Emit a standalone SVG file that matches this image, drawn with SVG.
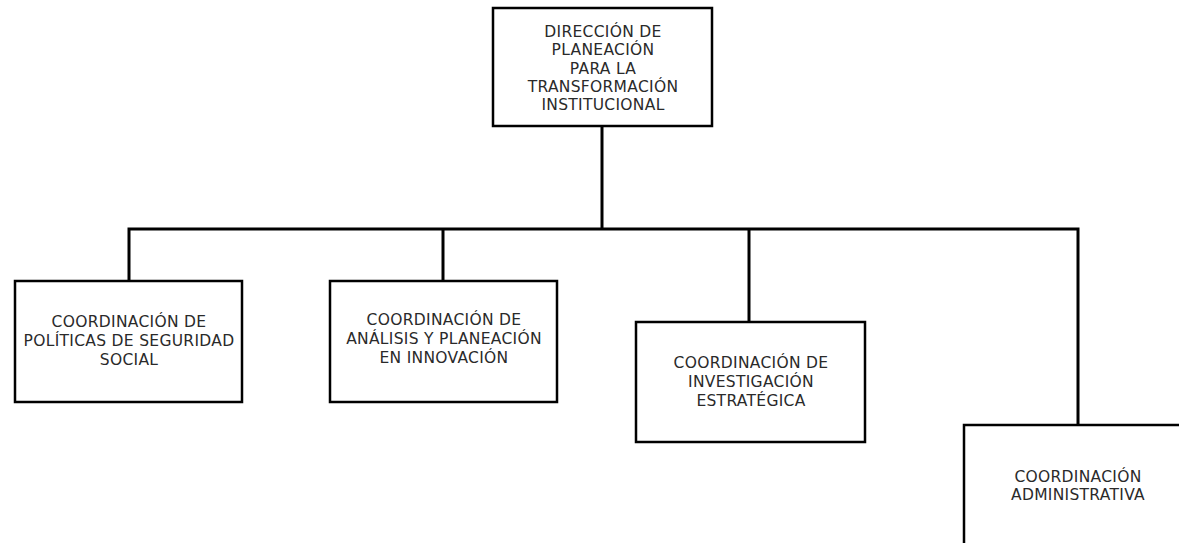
<svg xmlns="http://www.w3.org/2000/svg" width="1179" height="543" viewBox="0 0 1179 543">
<style>
.box{fill:#fff;stroke:#000;stroke-width:2.5}
.ln{fill:none;stroke:#000;stroke-width:3}
text{font-family:"DejaVu Sans","Liberation Sans",sans-serif;font-size:15.5px;letter-spacing:0.3px;fill:#2a2a2a;text-anchor:middle}
</style>
<rect width="1179" height="543" fill="#fff"/>
<g id="connectors">
<line class="ln" x1="602" y1="126" x2="602" y2="229"/>
<polyline class="ln" points="129,281 129,229 1078,229 1078,425"/>
<line class="ln" x1="443" y1="229" x2="443" y2="281"/>
<line class="ln" x1="749" y1="229" x2="749" y2="322"/>
</g>
<g id="n0">
<rect class="box" x="493" y="8" width="219" height="118"/>
<text x="603" y="37">DIRECCIÓN DE</text>
<text x="603" y="55">PLANEACIÓN</text>
<text x="603" y="74">PARA LA</text>
<text x="603" y="92">TRANSFORMACIÓN</text>
<text x="603" y="110">INSTITUCIONAL</text>
</g>
<g id="n1">
<rect class="box" x="15" y="281" width="227" height="121"/>
<text x="129" y="327">COORDINACIÓN DE</text>
<text x="129" y="346">POLÍTICAS DE SEGURIDAD</text>
<text x="129" y="365">SOCIAL</text>
</g>
<g id="n2">
<rect class="box" x="330" y="281" width="227" height="121"/>
<text x="444" y="325">COORDINACIÓN DE</text>
<text x="444" y="344">ANÁLISIS Y PLANEACIÓN</text>
<text x="444" y="363">EN INNOVACIÓN</text>
</g>
<g id="n3">
<rect class="box" x="636" y="322" width="229" height="120"/>
<text x="751" y="368">COORDINACIÓN DE</text>
<text x="751" y="387">INVESTIGACIÓN</text>
<text x="751" y="406">ESTRATÉGICA</text>
</g>
<g id="n4">
<rect class="box" x="964" y="425" width="240" height="140"/>
<text x="1078" y="482">COORDINACIÓN</text>
<text x="1078" y="500">ADMINISTRATIVA</text>
</g>
</svg>
